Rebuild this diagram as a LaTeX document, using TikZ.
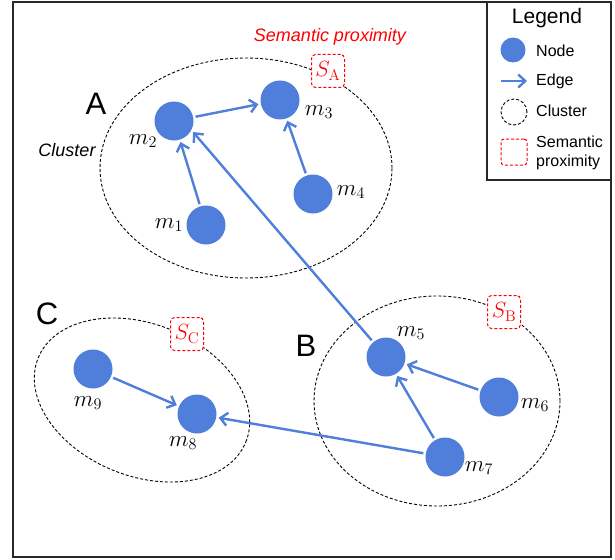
\RequirePackage{fix-cm}
\documentclass[tikz,border=0pt]{standalone}
\usepackage[no-math]{fontspec}
\setmainfont{Liberation Sans}
\usetikzlibrary{arrows.meta}
\definecolor{nodeblue}{RGB}{79,126,219}
\definecolor{framegray}{RGB}{40,40,40}
\begin{document}
\begin{tikzpicture}[x=1pt,y=-1pt,
  mnode/.style={circle,fill=nodeblue,minimum size=39pt,inner sep=0pt,outer sep=2.5pt},
  edge/.style={draw=nodeblue,line width=2.4pt,-{Straight Barb[length=7pt,width=13pt]}},
  cluster/.style={draw=black,dash pattern=on 3pt off 2pt,line width=0.9pt},
  sbox/.style={draw=red,dash pattern=on 3pt off 2pt,line width=1pt,rounded corners=4pt,minimum width=33pt,minimum height=33pt,inner sep=0pt,fill=white,text=red,font=\fontsize{22}{26}\selectfont},
  mlabel/.style={font=\fontsize{23}{27}\selectfont,inner sep=0pt},
  biglabel/.style={font=\fontsize{31}{36}\selectfont,inner sep=0pt},
  legtext/.style={font=\fontsize{16}{19.5}\selectfont,anchor=west,inner sep=0pt}
]
\useasboundingbox (0,0) rectangle (615,559);
\draw[framegray,line width=1.5pt] (13,2) rectangle (611,557);
\draw[framegray,line width=1.5pt] (487,2) rectangle (611,180);

% clusters
\draw[cluster] (246,168) ellipse [x radius=146pt, y radius=110pt];
\draw[cluster] (437,401) ellipse [x radius=123pt, y radius=105pt];
\draw[cluster,rotate around={-22:(142,400)}] (142,400) ellipse [x radius=112pt, y radius=76pt];

% semantic proximity boxes
\node[sbox] (sa) at (328,71) {$S_{\mathrm{A}}$};
\node[sbox] (sb) at (504,312) {$S_{\mathrm{B}}$};
\node[sbox] (sc) at (187,334) {$S_{\mathrm{C}}$};

% nodes
\node[mnode] (m1) at (206,225) {};
\node[mnode] (m2) at (174,121) {};
\node[mnode] (m3) at (280,100) {};
\node[mnode] (m4) at (313,194) {};
\node[mnode] (m5) at (386,357) {};
\node[mnode] (m6) at (499,397) {};
\node[mnode] (m7) at (445,457) {};
\node[mnode] (m8) at (197,414) {};
\node[mnode] (m9) at (93,369) {};

% node labels
\node[mlabel] (l1) at (169,225) {$m_1$};
\node[mlabel] (l2) at (143,141) {$m_2$};
\node[mlabel] (l3) at (319,112) {$m_3$};
\node[mlabel] (l4) at (351,192) {$m_4$};
\node[mlabel] (l5) at (411,333) {$m_5$};
\node[mlabel] (l6) at (535,405) {$m_6$};
\node[mlabel] (l7) at (479,468) {$m_7$};
\node[mlabel] (l8) at (183,443) {$m_8$};
\node[mlabel] (l9) at (88,403) {$m_9$};

% edges
\draw[edge] (m2) -- (m3);
\draw[edge] (m1) -- (m2);
\draw[edge] (m4) -- (m3);
\draw[edge] (m5) -- (m2.-30);
\draw[edge] (m6) -- (m5);
\draw[edge] (m7) -- (m5);
\draw[edge] (m7) -- (m8);
\draw[edge] (m9) -- (m8);

% cluster letters and texts
\node[biglabel] (ta) at (96,104) {A};
\node[biglabel] (tb) at (306,346) {B};
\node[biglabel] (tc) at (47,314) {C};
\node[font=\fontsize{18}{22}\selectfont\itshape,text=red,inner sep=0pt] (tsp) at (330,37) {Semantic proximity};
\node[font=\fontsize{18}{22}\selectfont\itshape,inner sep=0pt] (tcl) at (67,150) {Cluster};

% legend
\node[font=\fontsize{21}{25}\selectfont,inner sep=0pt] (legt) at (547,18) {Legend};
\node[circle,fill=nodeblue,minimum size=25pt,inner sep=0pt] (lnode) at (513,50) {};
\node[legtext] (lnodet) at (536,51) {Node};
\coordinate (le1) at (501,81);
\coordinate (le2) at (527,81);
\draw[edge] (le1) -- (le2);
\node[legtext] (ledget) at (536,81) {Edge};
\node[circle,cluster,minimum size=26pt,inner sep=0pt] (lclu) at (514,112) {};
\node[legtext] (lclut) at (536,111) {Cluster};
\node[draw=red,dash pattern=on 3pt off 2pt,line width=1pt,rounded corners=3pt,minimum size=26pt,inner sep=0pt] (lsp) at (514,152) {};
\node[legtext,align=left] (lspt) at (536,153) {Semantic\\proximity};
\end{tikzpicture}
\end{document}
